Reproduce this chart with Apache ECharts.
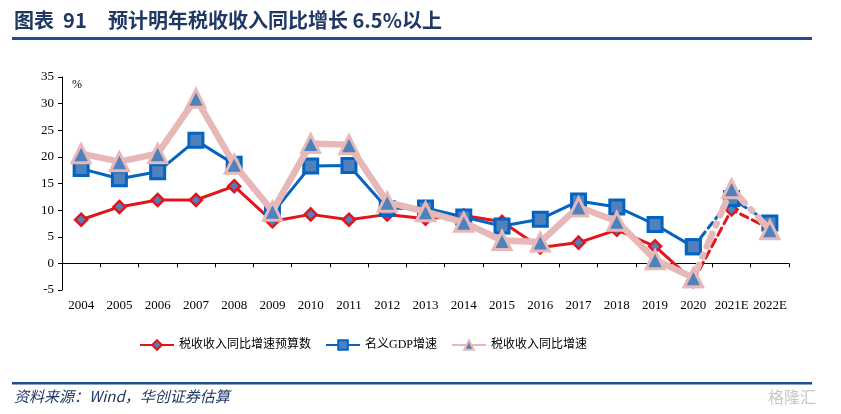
<!DOCTYPE html>
<html><head><meta charset="utf-8">
<script src="https://cdn.jsdelivr.net/npm/echarts@6/dist/echarts.min.js"></script>
<style>html,body{margin:0;padding:0;background:#fff}#c{width:841px;height:414px}</style>
</head><body><div id="c"></div>
<script>
const categories = ['2004','2005','2006','2007','2008','2009','2010','2011','2012','2013','2014','2015','2016','2017','2018','2019','2020','2021E','2022E'];
const budgetTax = [8.2,10.6,11.9,11.9,14.5,7.9,9.2,8.2,9.2,8.4,9.0,7.8,3.0,3.9,6.3,3.2,-3.3,10.1,6.5];
const nominalGdp = [17.8,15.9,17.2,23.1,18.6,9.4,18.3,18.4,10.3,10.4,8.7,7.0,8.3,11.7,10.6,7.3,3.1,12.2,7.6];
const taxRevenue = [20.6,19.1,20.6,31.0,18.6,9.8,22.5,22.3,11.5,9.7,7.7,4.3,4.0,10.6,7.9,0.7,-2.7,14.0,6.3];
const names = ['税收收入同比增速预算数','名义GDP增速','税收收入同比增速'];
const yTicks = {min:-5,max:35,interval:5};
const solidEnd = 16; // index of 2020

function solid(arr){return arr.map((v,i)=> i<=solidEnd ? v : null);}
function dashed(arr){return arr.map((v,i)=> i>=solidEnd ? v : null);}

const serif = '"Liberation Serif","Noto Sans CJK SC",serif';
const styles = [
  {line:'#e3141c', w:3, sym:'diamond', size:12, fill:'#4f81bd', border:'#e3141c', bw:2.5, dash:[8,5]},
  {line:'#0563c1', w:3, sym:'rect', size:14, fill:'#4f81bd', border:'#0563c1', bw:3, dash:[7,5]},
  {line:'#e6b9b8', w:6.5, sym:'triangle', size:18, fill:'#4f81bd', border:'#e6b9b8', bw:3, dash:[14,9,2,9]}
];
const dataSets = [budgetTax, nominalGdp, taxRevenue];
const series = [];
dataSets.forEach((d,k)=>{
  const s = styles[k];
  series.push({
    name:names[k], type:'line', data:solid(d), symbol:s.sym, symbolSize:s.size,
    lineStyle:{color:s.line,width:s.w}, itemStyle:{color:s.fill,borderColor:s.border,borderWidth:s.bw},
    z:2+k, animation:false
  });
});
dataSets.forEach((d,k)=>{
  const s = styles[k];
  series.push({
    name:names[k]+'_e', type:'line', data:dashed(d), symbol:s.sym, symbolSize:s.size,
    lineStyle:{color:s.line,width:s.w,type:s.dash,cap:'round'}, itemStyle:{color:s.fill,borderColor:s.border,borderWidth:s.bw},
    z:2+k, animation:false
  });
});

const chart = echarts.init(document.getElementById('c'));
chart.setOption({
  animation:false,
  grid:{left:62,right:52,top:77,bottom:124},
  legend:{
    data:names, left:134, top:334, itemWidth:34, itemHeight:12, itemGap:14,
    textStyle:{fontFamily:serif,fontSize:12,color:'#000'}
  },
  xAxis:{
    type:'category', data:categories, boundaryGap:true,
    axisLine:{onZero:true,lineStyle:{color:'#000',width:1}},
    axisTick:{show:true,inside:false,length:4,lineStyle:{color:'#000'}},
    axisLabel:{margin:9,color:'#000',fontFamily:serif,fontSize:13,interval:0},
    splitLine:{show:false}
  },
  yAxis:{
    type:'value', min:yTicks.min, max:yTicks.max, interval:yTicks.interval,
    axisLine:{show:true,lineStyle:{color:'#000',width:1}},
    axisTick:{show:true,length:4,lineStyle:{color:'#000'}},
    axisLabel:{color:'#000',fontFamily:serif,fontSize:13,margin:8},
    splitLine:{show:false}
  },
  graphic:[
    {type:'text',left:14,top:10,style:{text:'图表  91',font:'bold 20px "Noto Sans CJK SC"',fill:'#1f3864'}},
    {type:'text',left:108,top:10,style:{text:'预计明年税收收入同比增长 6.5%以上',font:'bold 20px "Noto Sans CJK SC"',fill:'#1f3864'}},
    {type:'rect',shape:{x:12,y:37,width:800,height:3},style:{fill:'#1f4e8c'}},
    {type:'text',left:72,top:79,style:{text:'%',font:'12px "Liberation Serif"',fill:'#000'}},
    {type:'rect',shape:{x:12,y:382,width:800,height:2.5},style:{fill:'#1f4e8c'}},
    {type:'text',left:14,top:389,style:{text:'资料来源：Wind，华创证券估算',font:'italic 15px "Noto Sans CJK SC"',fill:'#1f3864'}},
    {type:'text',left:768,top:389,style:{text:'格隆汇',font:'16px "Noto Sans CJK SC"',fill:'#c8c8c8'}}
  ],
  series:series
});
</script></body></html>
